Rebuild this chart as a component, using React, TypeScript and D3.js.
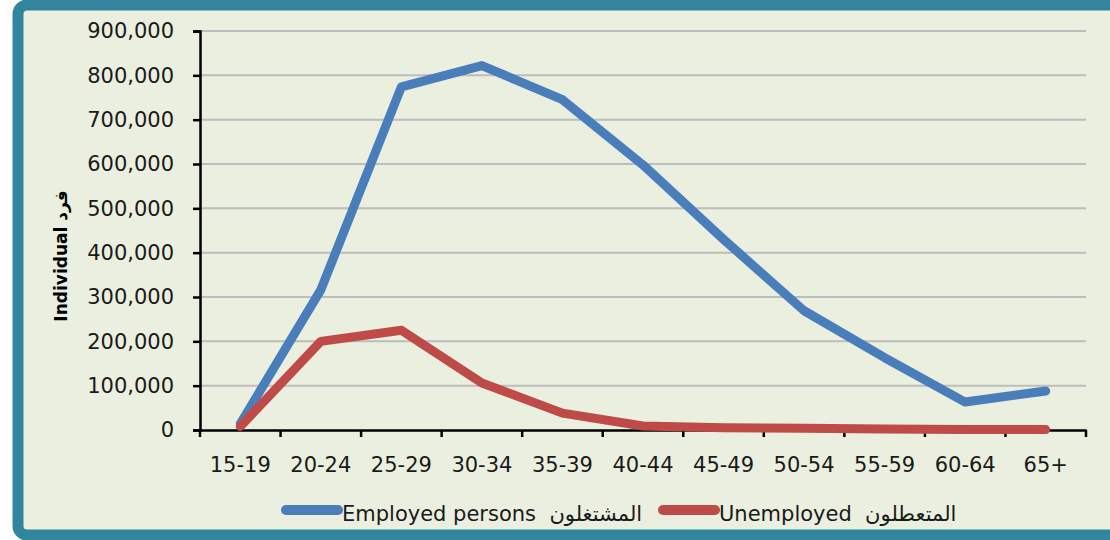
import * as d3 from "d3";
import { useEffect, useRef } from "react";

// age groups on the x axis
const ageGroups = ["15-19", "20-24", "25-29", "30-34", "35-39", "40-44", "45-49", "50-54", "55-59", "60-64", "65+"];
// employed persons per age group
const employed = [14000, 316000, 774000, 822000, 745000, 598000, 430000, 269000, 163000, 63000, 88000];
// unemployed per age group
const unemployed = [8000, 200000, 225000, 106000, 38000, 9000, 5000, 4000, 2000, 1000, 1000];
const yTicks = [0, 100000, 200000, 300000, 400000, 500000, 600000, 700000, 800000, 900000];

const seriesNames = ["Employed persons  المشتغلون", "Unemployed  المتعطلون"];
const seriesColors = ["#4A7EBB", "#BE4B48"];

const App = () => {
  const svgRef = useRef<SVGSVGElement>(null);

  useEffect(() => {
    const width = 1110;
    const height = 540;
    const margin = { left: 200, right: 24, top: 31, bottom: 110 };
    const font = "'DejaVu Sans', sans-serif";

    const svg = d3.select(svgRef.current);
    svg.selectAll("*").remove();
    svg.attr("width", width).attr("height", height);

    // frame
    svg
      .append("rect")
      .attr("x", 18)
      .attr("y", 5)
      .attr("width", 1110)
      .attr("height", 530)
      .attr("rx", 9)
      .attr("fill", "#EBEFDF")
      .attr("stroke", "#31859C")
      .attr("stroke-width", 11);

    const x = d3
      .scaleBand()
      .domain(ageGroups)
      .range([margin.left, width - margin.right])
      .padding(0);
    const y = d3
      .scaleLinear()
      .domain([0, 900000])
      .range([height - margin.bottom, margin.top]);

    // gridlines
    svg
      .append("g")
      .selectAll("line")
      .data(yTicks.slice(1))
      .join("line")
      .attr("x1", margin.left)
      .attr("x2", width - margin.right)
      .attr("y1", (d) => y(d))
      .attr("y2", (d) => y(d))
      .attr("stroke", "#BDBDBD")
      .attr("stroke-width", 2);

    // y axis
    const yAxis = svg
      .append("g")
      .attr("transform", `translate(${margin.left},0)`)
      .call(
        d3
          .axisLeft(y)
          .tickValues(yTicks)
          .tickFormat(d3.format(","))
          .tickSize(7)
          .tickPadding(19)
      );
    yAxis.select(".domain").attr("stroke", "#000").attr("stroke-width", 2.5);
    yAxis.selectAll(".tick line").attr("stroke", "#000").attr("stroke-width", 2.5);
    yAxis
      .selectAll("text")
      .attr("font-family", font)
      .attr("font-size", 21)
      .attr("fill", "#1a1a1a");

    // x axis
    const xAxis = svg
      .append("g")
      .attr("transform", `translate(0,${y(0)})`)
      .call(d3.axisBottom(x).tickSize(0).tickPadding(27).tickSizeOuter(0));
    xAxis.select(".domain").attr("stroke", "#000").attr("stroke-width", 2.5);
    xAxis
      .selectAll("text")
      .attr("font-family", font)
      .attr("font-size", 21)
      .attr("fill", "#1a1a1a");
    // tick marks between categories
    const boundaries = ageGroups.map((g) => x(g) as number).concat([width - margin.right]);
    xAxis
      .append("g")
      .selectAll("line")
      .data(boundaries)
      .join("line")
      .attr("x1", (d) => d)
      .attr("x2", (d) => d)
      .attr("y1", 0)
      .attr("y2", 7)
      .attr("stroke", "#000")
      .attr("stroke-width", 2.5);

    // axis title
    svg
      .append("text")
      .attr("transform", `translate(67,256) rotate(-90)`)
      .attr("text-anchor", "middle")
      .attr("font-family", font)
      .attr("font-weight", "bold")
      .attr("font-size", 17)
      .attr("fill", "#000")
      .text("Individual  فرد");

    // lines
    const line = d3
      .line<number>()
      .x((_, i) => (x(ageGroups[i]) as number) + x.bandwidth() / 2)
      .y((d) => y(d));

    [employed, unemployed].forEach((values, i) => {
      svg
        .append("path")
        .datum(values)
        .attr("fill", "none")
        .attr("stroke", seriesColors[i])
        .attr("stroke-width", 9)
        .attr("stroke-linejoin", "round")
        .attr("stroke-linecap", "round")
        .attr("d", line);
    });

    // legend
    const legendX = [286, 663];
    const legend = svg
      .append("g")
      .selectAll("g")
      .data(seriesNames)
      .join("g")
      .attr("transform", (_, i) => `translate(${legendX[i]},510)`);
    legend
      .append("line")
      .attr("x1", 0)
      .attr("x2", 52)
      .attr("stroke", (_, i) => seriesColors[i])
      .attr("stroke-width", 10)
      .attr("stroke-linecap", "round");
    legend
      .append("text")
      .attr("x", 56)
      .attr("y", 11)
      .attr("font-family", font)
      .attr("font-size", 21)
      .attr("fill", "#1a1a1a")
      .attr("xml:space", "preserve")
      .style("white-space", "pre")
      .text((d) => d);
  }, []);

  return (
    <svg
      ref={svgRef}
      style={{ position: "absolute", left: 0, top: 0, display: "block" }}
    ></svg>
  );
};

export default App;
